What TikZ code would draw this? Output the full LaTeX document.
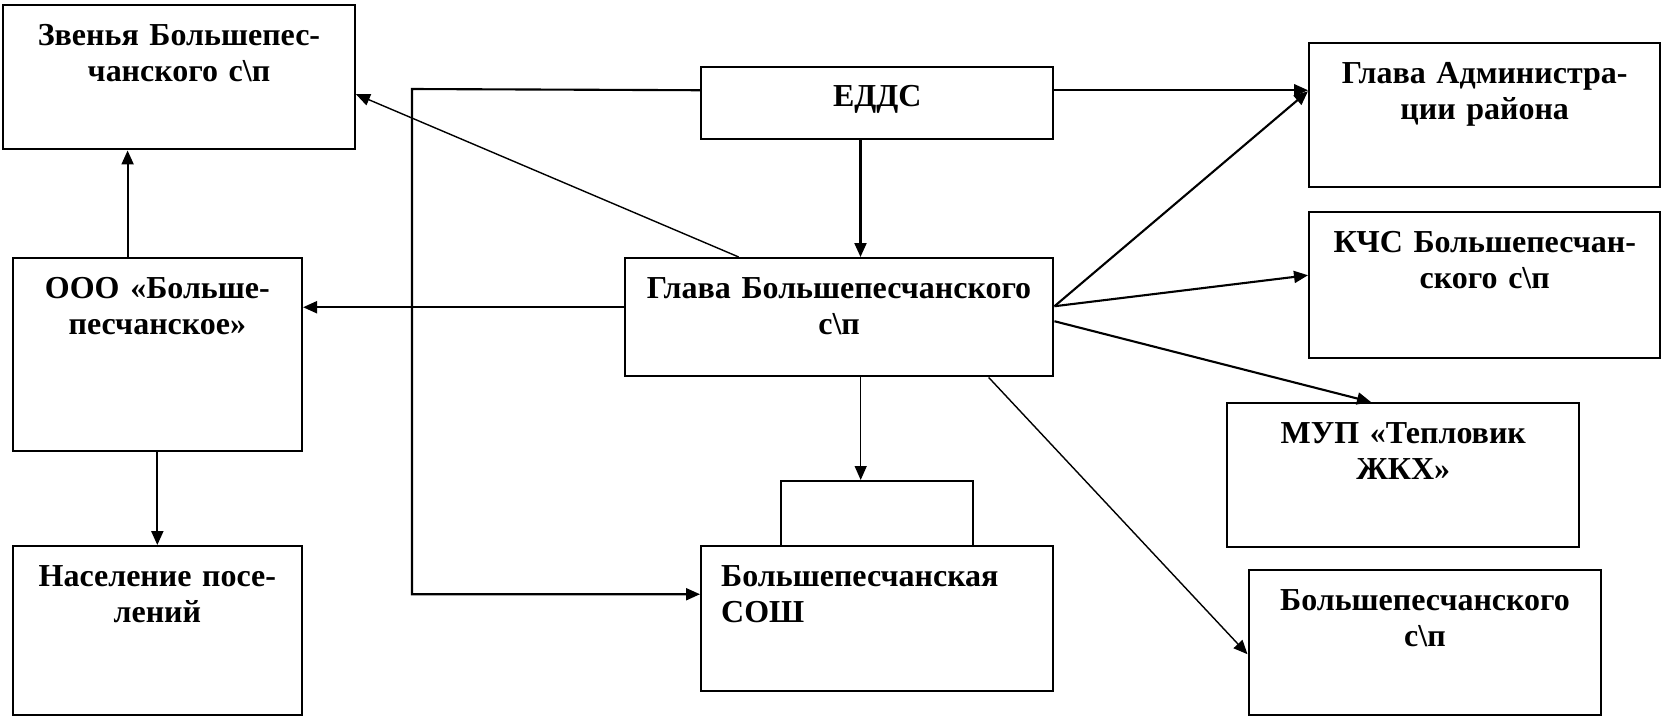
\documentclass[tikz,border=0pt]{standalone}
\usepackage{fontspec}
\setmainfont{Liberation Serif}
\usetikzlibrary{arrows.meta}
\tikzset{->}
\tikzset{blk/.style 2 args={draw, line width=.7pt, anchor=north west, inner sep=0pt,
    align=center, text width=#1, text height=4mm, text depth=#2,
    font=\fontsize{9.1}{10.4}\selectfont\bfseries}}

\begin{document}
\begin{tikzpicture}[>={Triangle[length=1.4mm,width=1.2mm]}, x=.1mm, y=-.1mm, line width=.6pt]
    \useasboundingbox (0,0) rectangle (1661,715);
    % blocks
    \node[blk={35.15mm}{10.4mm}] (zven) at (2,4) {Звенья Большепес-\\чанского с\textbackslash п};
    \node[blk={35.2mm}{3.2mm}] (eds) at (700,65.7) {ЕДДС};
    \node[blk={35.1mm}{10.4mm}] (adm) at (1308,42) {Глава Администра-\\ции района};
    \node[blk={35.1mm}{10.6mm}] (kchs) at (1308,211) {КЧС Большепесчан-\\ского с\textbackslash п};
    \node[blk={28.9mm}{15.3mm}] (ooo) at (11.6,257) {ООО «Больше-\\песчанское»};
    \node[blk={42.83mm}{7.8mm}] (glava) at (623.7,257) {Глава Большепесчанского\\с\textbackslash п};
    \node[blk={35.2mm}{10.4mm}] (mup) at (1226,402) {МУП «Тепловик\\ЖКХ»};
    \node[blk={19.2mm}{2.5mm}] (tab) at (780,480) {};
    \node[blk={28.9mm}{12.9mm}] (nas) at (11.6,545) {Население посе-\\лений};
    \node[blk={31.2mm}{10.5mm}, inner xsep=2mm, align=left] (sosh) at (700,545) {Большепесчанская\\СОШ};
    \node[blk={35.25mm}{10.5mm}] (bsp) at (1247.5,569) {Большепесчанского\\с\textbackslash п};
    \coordinate (bus) at (412,89);
    % links
    \path ([xshift=11.6mm]ooo.north west) edge ([xshift=11.6mm]ooo.north west |- zven.south);
    \path (ooo.south) edge (nas.north);
    \path ([yshift=1mm]glava.west) edge ([yshift=1mm]glava.west -| ooo.east);
    \path ([xshift=11.5mm]glava.north west) edge[thin] ([yshift=-1.7mm]zven.east);
    \path ([xshift=16.05mm]eds.south west) edge ([xshift=16.05mm]eds.south west |- glava.north);
    \path ([yshift=1.27mm]eds.east) edge ([yshift=1.27mm]eds.east -| adm.west);
    \draw ([yshift=1.27mm]eds.west) -- (bus) |- ([yshift=2.45mm]sosh.west);
    \path ([yshift=1.1mm]glava.east) edge ([yshift=2.4mm]adm.west);
    \path ([yshift=1.1mm]glava.east) edge ([yshift=1mm]kchs.west);
    \path ([yshift=-.4mm]glava.east) edge ([xshift=14.5mm]mup.north west);
    \path ([xshift=36.5mm]glava.south west) edge[thin] ([yshift=-1.15mm]bsp.west);
    \path ([xshift=23.7mm]glava.south west) edge[thin] ([xshift=23.7mm]glava.south west |- tab.north);
\end{tikzpicture}
\end{document}
